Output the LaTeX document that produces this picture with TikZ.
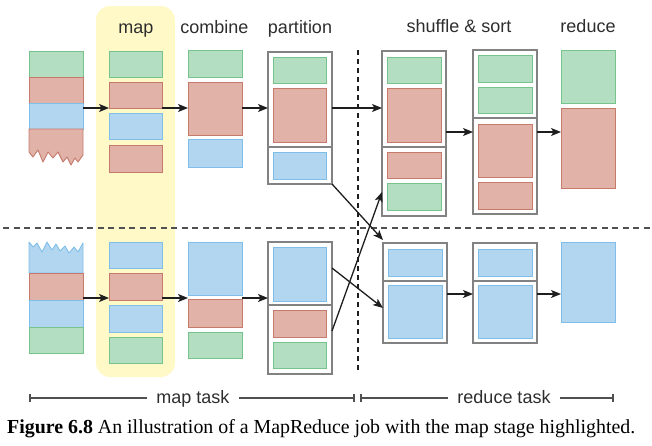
\documentclass[tikz,border=0pt]{standalone}
\usepackage{fontspec}
\setmainfont{Liberation Serif}
\setsansfont{Liberation Sans}
\usetikzlibrary{arrows.meta,calc}
\definecolor{gF}{RGB}{180,222,194}
\definecolor{gD}{RGB}{118,196,140}
\definecolor{rF}{RGB}{224,178,168}
\definecolor{rD}{RGB}{198,122,108}
\definecolor{bF}{RGB}{178,213,240}
\definecolor{bD}{RGB}{128,190,234}
\definecolor{hlC}{RGB}{255,249,200}
\definecolor{contC}{RGB}{130,130,130}
\definecolor{arrC}{RGB}{30,30,30}
\definecolor{labC}{RGB}{45,45,45}
\definecolor{brkC}{RGB}{80,80,80}
\newcommand\mybox[6]{\node[#2, minimum width={(#5)-(#3)}, minimum height={(#6)-(#4)}] (#1) at ({((#3)+(#5))/2},{((#4)+(#6))/2}) {};}
\begin{document}
\begin{tikzpicture}[x=1pt,y=-1pt,
  blkbase/.style={draw, line width=0.9pt, inner sep=0pt, outer sep=0pt},
  gbox/.style={blkbase, fill=gF, draw=gD},
  rbox/.style={blkbase, fill=rF, draw=rD},
  bbox/.style={blkbase, fill=bF, draw=bD},
  cont/.style={draw=contC, line width=1.2pt, fill=white, inner sep=0pt, outer sep=0pt},
  divline/.style={draw=contC, line width=1.2pt},
  ghost/.style={inner sep=0pt, outer sep=0pt},
  hilite/.style={fill=hlC, rounded corners=14pt, inner sep=0pt, outer sep=0pt},
  arr/.style={-{Stealth[length=10pt,width=8pt,inset=2.5pt]}, line width=1.3pt, draw=arrC},
  lab/.style={font=\sffamily\fontsize{18}{20}\selectfont, text=labC, anchor=base, inner sep=0pt},
  brklab/.style={lab, inner xsep=9pt},
  brk/.style={draw=brkC, line width=1.4pt},
  dashh/.style={draw=brkC, line width=1.2pt, dash pattern=on 6pt off 4.5pt},
  dashv/.style={draw=arrC, line width=1.1pt, dash pattern=on 5pt off 4pt},
]
\useasboundingbox (0,0) rectangle (652,445);
% rows
\coordinate (yT) at (0,108);
\coordinate (yT2) at (0,132);
\coordinate (yB) at (0,298);
\coordinate (yB2) at (0,294);

% highlight
\mybox{hl}{hilite}{96}{6}{175}{377}

% labels
\node[lab] (lmap) at (136,33) {map};
\node[lab] (lcomb) at (214.5,33) {combine};
\node[lab] (lpart) at (300,33) {partition};
\node[lab] (lshuf) at (459,32) {shuffle \& sort};
\node[lab] (lred) at (588,32) {reduce};

% dashed separators
\draw[dashh] (3,228) -- (652,228);
\draw[dashv] (358,50) -- (358,373);

% ---------- top row ----------
\mybox{inT}{ghost}{29}{51}{83}{165}
\mybox{inT1}{gbox}{29}{51}{83}{77}
\mybox{inT2}{rbox}{29}{77}{83}{103}
\mybox{inT3}{bbox}{29}{103}{83}{129}
\path[fill=rF, draw=rD, line width=0.9pt, line join=round]
  (29,129) -- (83,129) -- (83,155) -- (78,162) -- (75,158) -- (71,165) -- (67,157) -- (63,162)
  -- (58,152) -- (53,158) -- (48,152) -- (43,162) -- (38,150) -- (33,157) -- (29,152) -- cycle;

\mybox{mapT}{ghost}{109}{51}{162}{172}
\mybox{mT1}{gbox}{109}{51}{162}{77}
\mybox{mT2}{rbox}{109}{82}{162}{108}
\mybox{mT3}{bbox}{109}{113}{162}{139}
\mybox{mT4}{rbox}{109}{145}{162}{172}

\mybox{combT}{ghost}{188}{50}{242}{167}
\mybox{cT1}{gbox}{188}{50}{242}{77}
\mybox{cT2}{rbox}{188}{82}{242}{135}
\mybox{cT3}{bbox}{188}{139}{242}{167}

\mybox{partT}{cont}{268}{52}{332}{184}
\draw[divline] (partT.west |- 0,147) -- (partT.east |- 0,147);
\mybox{pT1}{gbox}{273}{57}{326}{83}
\mybox{pT2}{rbox}{273}{88}{326}{142}
\mybox{pT3}{bbox}{273}{152}{326}{179}

\mybox{shufT}{cont}{382}{51}{446}{216}
\draw[divline] (shufT.west |- 0,147) -- (shufT.east |- 0,147);
\mybox{sT1}{gbox}{387}{57}{441}{83}
\mybox{sT2}{rbox}{387}{88}{441}{142}
\mybox{sT3}{rbox}{387}{152}{441}{178}
\mybox{sT4}{gbox}{387}{183}{441}{210}

\mybox{sortT}{cont}{473}{50}{537}{214}
\draw[divline] (sortT.west |- 0,118) -- (sortT.east |- 0,118);
\mybox{tT1}{gbox}{478}{55}{532}{82}
\mybox{tT2}{gbox}{478}{87}{532}{113}
\mybox{tT3}{rbox}{478}{124}{532}{177}
\mybox{tT4}{rbox}{478}{182}{532}{209}

\mybox{redT}{ghost}{561}{50}{615}{188}
\mybox{rT1}{gbox}{561}{50}{615}{103}
\mybox{rT2}{rbox}{561}{108}{615}{188}

% ---------- bottom row ----------
\mybox{inB}{ghost}{29}{242}{83}{353}
\path[fill=bF, draw=bD, line width=0.9pt, line join=round]
  (29,273) -- (29,242) -- (33,247) -- (37,243) -- (42,252) -- (47,242) -- (52,250) -- (56,244)
  -- (60,251) -- (65,246) -- (69,253) -- (74,247) -- (78,252) -- (83,243) -- (83,273) -- cycle;
\mybox{inB2}{rbox}{29}{273}{83}{300}
\mybox{inB3}{bbox}{29}{300}{83}{327}
\mybox{inB4}{gbox}{29}{327}{83}{353}

\mybox{mapB}{ghost}{109}{242}{162}{363}
\mybox{mB1}{bbox}{109}{242}{162}{268}
\mybox{mB2}{rbox}{109}{273}{162}{300}
\mybox{mB3}{bbox}{109}{305}{162}{332}
\mybox{mB4}{gbox}{109}{337}{162}{363}

\mybox{combB}{ghost}{188}{242}{242}{358}
\mybox{cB1}{bbox}{188}{242}{242}{295}
\mybox{cB2}{rbox}{188}{299}{242}{327}
\mybox{cB3}{gbox}{188}{332}{242}{358}

\mybox{partB}{cont}{268}{242}{332}{374}
\draw[divline] (partB.west |- 0,305) -- (partB.east |- 0,305);
\mybox{pB1}{bbox}{273}{247}{326}{301}
\mybox{pB2}{rbox}{273}{310}{326}{337}
\mybox{pB3}{gbox}{273}{342}{326}{368}

\mybox{shufB}{cont}{383}{243}{447}{343}
\draw[divline] (shufB.west |- 0,281) -- (shufB.east |- 0,281);
\mybox{sB1}{bbox}{388}{249}{442}{276}
\mybox{sB2}{bbox}{388}{285}{442}{338}

\mybox{sortB}{cont}{473}{243}{537}{343}
\draw[divline] (sortB.west |- 0,281) -- (sortB.east |- 0,281);
\mybox{tB1}{bbox}{478}{249}{532}{276}
\mybox{tB2}{bbox}{478}{285}{532}{338}

\mybox{rB1}{bbox}{561}{242}{615}{322}

% ---------- arrows ----------
\draw[arr] (inT.east |- yT) -- (mapT.west |- yT);
\draw[arr] (mapT.east |- yT) -- (combT.west |- yT);
\draw[arr] (combT.east |- yT) -- (partT.west |- yT);
\draw[arr] (partT.east |- yT) -- (shufT.west |- yT);
\draw[arr] (shufT.east |- yT2) -- (sortT.west |- yT2);
\draw[arr] (sortT.east |- yT2) -- (redT.west |- yT2);

\draw[arr] (inB.east |- yB) -- (mapB.west |- yB);
\draw[arr] (mapB.east |- yB) -- (combB.west |- yB);
\draw[arr] (combB.east |- yB) -- (partB.west |- yB);
\draw[arr] (shufB.east |- yB2) -- (sortB.west |- yB2);
\draw[arr] (sortB.east |- yB2) -- (rB1.west |- yB2);

\coordinate (x1) at (0,240);
\coordinate (x2a) at (0,268);
\coordinate (x2b) at (0,308);
\coordinate (x3a) at (0,331);
\coordinate (x3b) at (0,192);
\draw[arr] (partT.south east) -- (shufB.west |- x1);
\draw[arr] (partB.east |- x2a) -- (shufB.west |- x2b);
\draw[arr] (partB.east |- x3a) -- (shufT.west |- x3b);

% ---------- task brackets ----------
\node[brklab] (mt) at (193,403) {map task};
\draw[brk] (30,398) -- (mt.west |- 0,398);
\draw[brk] (mt.east |- 0,398) -- (354,398);
\draw[brk] (30,394) -- (30,402);
\draw[brk] (354,394) -- (354,402);

\node[brklab] (rt) at (504,403) {reduce task};
\draw[brk] (361,398) -- (rt.west |- 0,398);
\draw[brk] (rt.east |- 0,398) -- (613,398);
\draw[brk] (361,394) -- (361,402);
\draw[brk] (613,394) -- (613,402);

% ---------- caption ----------
\node[anchor=base west, inner sep=0pt] (cap) at (7,433)
  {\resizebox{628pt}{!}{\fontsize{18}{20}\selectfont\textbf{Figure 6.8} An illustration of a MapReduce job with the map stage highlighted.}};
\end{tikzpicture}
\end{document}
